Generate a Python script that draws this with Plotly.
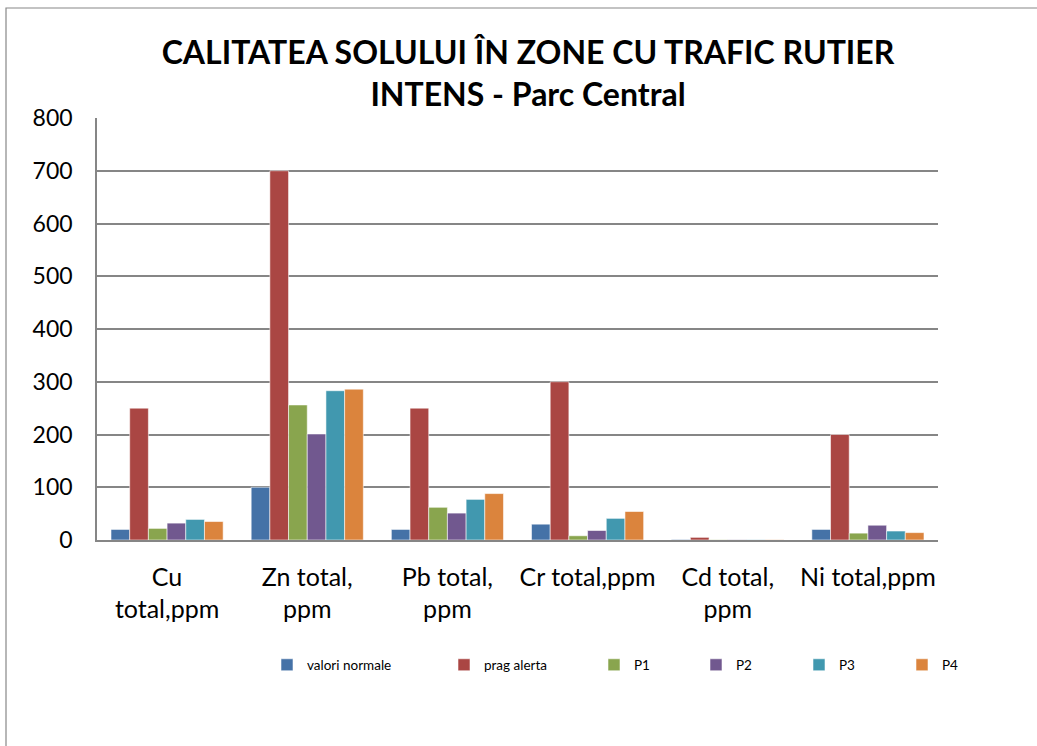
import plotly.graph_objects as go

categories = ["Cu total,ppm", "Zn total, ppm", "Pb total, ppm", "Cr total,ppm", "Cd total, ppm", "Ni total,ppm"]
tick_labels = ["Cu<br>total,ppm", "Zn total,<br>ppm", "Pb total,<br>ppm", "Cr total,ppm", "Cd total,<br>ppm", "Ni total,ppm"]

valori_normale = [20, 100, 20, 30, 1, 20]
prag_alerta = [250, 700, 250, 300, 5, 200]
p1 = [22, 256, 62, 8, 0.5, 13]
p2 = [32, 201, 51, 18, 0.5, 28]
p3 = [39, 283, 77, 41, 0.5, 17]
p4 = [35, 286, 88, 54, 0.5, 14]

series_names = ["valori normale", "prag alerta", "P1", "P2", "P3", "P4"]
series_values = [valori_normale, prag_alerta, p1, p2, p3, p4]
colors = ["#4572A7", "#AA4643", "#89A54E", "#71588F", "#4198AF", "#DB843D"]

FONT = "Lato"
W, H = 1037, 746
L, R, T, B = 97, 99, 118, 206
pw, ph = W - L - R, H - T - B

def px_x(x):
    return (x - L) / pw

def px_y(y):
    return (H - B - y) / ph

fig = go.Figure()
legend_text_x = [307, 484, 634, 736, 839, 942]
legend_keys = ["legend"] + [f"legend{i}" for i in range(2, 7)]
for name, vals, col, lk in zip(series_names, series_values, colors, legend_keys):
    fig.add_trace(go.Bar(
        x=categories, y=vals, name=name,
        marker=dict(color=col, line=dict(color="rgba(255,255,255,0.55)", width=1)),
        legend=lk, showlegend=True,
    ))

layout_legends = {}
for lk, tx in zip(legend_keys, legend_text_x):
    layout_legends[lk] = dict(
        x=px_x(tx - 40), xanchor="left", y=px_y(665), yanchor="middle",
        orientation="h", font=dict(family=FONT, size=13.5, color="#000000"),
        bgcolor="rgba(0,0,0,0)", itemwidth=30, visible=True,
    )

fig.update_layout(
    width=W, height=H,
    margin=dict(l=L, r=R, t=T, b=B),
    paper_bgcolor="white", plot_bgcolor="white",
    barmode="group", bargap=0.2, bargroupgap=0,
    showlegend=True,
    font=dict(family=FONT, color="#000000"),
    title=dict(
        text="<b>CALITATEA SOLULUI ÎN ZONE CU TRAFIC RUTIER<br>INTENS - Parc Central</b>",
        x=px_x(528), xanchor="center", xref="paper",
        y=1 - 64 / H, yanchor="top", yref="container",
        font=dict(family=FONT, size=32, color="#000000"),
    ),
    xaxis=dict(
        tickvals=categories, ticktext=tick_labels,
        tickfont=dict(family=FONT, size=25, color="#000000"),
        showgrid=False, showline=True, linecolor="#868686", linewidth=1.5,
        ticks="", ticklabelstandoff=14,
    ),
    yaxis=dict(
        range=[0, 800], dtick=100,
        tickfont=dict(family=FONT, size=23, color="#000000"),
        showgrid=True, gridcolor="#868686", gridwidth=1.5,
        showline=True, linecolor="#868686", linewidth=1.5,
        zeroline=False, ticks="", ticklabelstandoff=18,
    ),
    shapes=[dict(
        type="rect", xref="paper", yref="paper",
        x0=px_x(6), x1=px_x(1045), y0=px_y(8), y1=px_y(760),
        line=dict(color="#888888", width=1.2), fillcolor="rgba(0,0,0,0)", layer="below",
    )],
    **layout_legends,
)

fig.write_html("out.html", config={"displayModeBar": False},
               post_script="document.body.style.margin='0';")
